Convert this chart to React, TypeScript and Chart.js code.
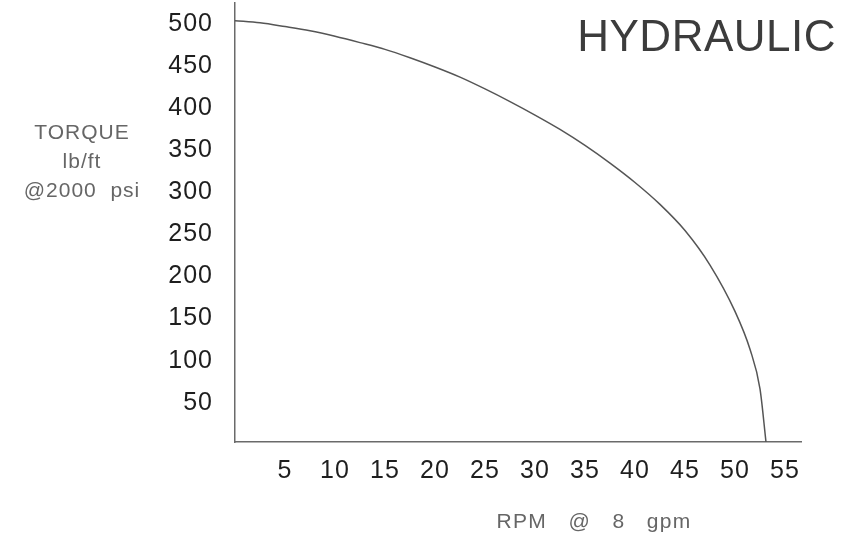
import React, { useEffect, useRef } from "react";
import { Chart, registerables } from "chart.js";

Chart.register(...registerables);

const rpm = [0, 2.5, 5, 7.5, 10, 12.5, 15, 17.5, 20, 22.5, 25, 27.5, 30, 32.5, 35, 37.5, 40, 42.5, 45, 47.5, 50, 51.5, 52.5, 53.1];
const torque = [500, 497.5, 493, 488, 481.5, 474, 466, 456, 445, 433, 419, 404, 388, 371, 352, 331, 308, 282, 251, 210, 155, 110, 63, 0];
const xTickValues = [5, 10, 15, 20, 25, 30, 35, 40, 45, 50, 55];
const yTickValues = [50, 100, 150, 200, 250, 300, 350, 400, 450, 500];
const chartTitle = "HYDRAULIC";
const yTitleLines = ["TORQUE", "lb/ft", "@2000  psi"];
const xTitle = "RPM   @   8   gpm";

const W = 841;
const H = 538;

const titlesPlugin = {
  id: "titlesPlugin",
  beforeDraw(chart: any) {
    (chart.ctx as any).letterSpacing = "1px";
  },
  afterDraw(chart: any) {
    const ctx = chart.ctx;
    ctx.save();
    (ctx as any).letterSpacing = "0.5px";
    ctx.fillStyle = "#3c3c3c";
    ctx.font = '44px "Liberation Sans", Arial, sans-serif';
    ctx.textAlign = "right";
    ctx.textBaseline = "alphabetic";
    ctx.fillText(chartTitle, 836, 51);

    (ctx as any).letterSpacing = "1px";
    ctx.fillStyle = "#666666";
    ctx.font = '21px "Liberation Sans", Arial, sans-serif';
    ctx.textAlign = "center";
    const baselines = [139, 168, 197];
    yTitleLines.forEach((t, i) => ctx.fillText(t, 82, baselines[i]));

    (ctx as any).letterSpacing = "1.3px";
    ctx.fillText(xTitle, 594, 528);
    ctx.restore();
    (ctx as any).letterSpacing = "0px";
  },
};

export default function App() {
  const ref = useRef<HTMLCanvasElement>(null);

  useEffect(() => {
    document.body.style.margin = "0";
    const canvas = ref.current;
    if (!canvas) return;
    const chart = new Chart(canvas, {
      type: "line",
      data: {
        datasets: [
          {
            data: rpm.map((x, i) => ({ x, y: torque[i] })),
            borderColor: "#555555",
            borderWidth: 1.5,
            pointRadius: 0,
            fill: false,
            cubicInterpolationMode: "monotone",
          },
        ],
      },
      options: {
        responsive: false,
        animation: false,
        layout: { padding: { left: 0, top: 3, right: 40, bottom: 0 } },
        plugins: {
          legend: { display: false },
          tooltip: { enabled: false },
          title: { display: false },
        },
        scales: {
          x: {
            type: "linear",
            min: 0,
            max: 56.6,
            grid: { display: false },
            border: { display: true, color: "#6a6a6a", width: 1.5 },
            afterBuildTicks: (scale: any) => {
              scale.ticks = xTickValues.map((v) => ({ value: v }));
            },
            afterFit: (scale: any) => {
              scale.height = 96;
              scale.paddingLeft = 0;
              scale.paddingRight = 0;
            },
            ticks: {
              color: "#1e1e1e",
              padding: 6,
              maxRotation: 0,
              autoSkip: false,
              font: { family: '"Liberation Sans", Arial, sans-serif', size: 25 },
            },
          },
          y: {
            type: "linear",
            min: 0,
            max: 521,
            grid: { display: false },
            border: { display: true, color: "#6a6a6a", width: 1.5 },
            afterBuildTicks: (scale: any) => {
              scale.ticks = yTickValues.map((v) => ({ value: v }));
            },
            afterFit: (scale: any) => {
              scale.width = 235;
              scale.paddingTop = 0;
              scale.paddingBottom = 0;
            },
            ticks: {
              color: "#1e1e1e",
              padding: 14,
              labelOffset: 3,
              autoSkip: false,
              font: { family: '"Liberation Sans", Arial, sans-serif', size: 25 },
            },
          },
        },
      },
      plugins: [titlesPlugin],
    });
    return () => chart.destroy();
  }, []);

  return (
    <div style={{ width: W, height: H, background: "#ffffff" }}>
      <canvas ref={ref} width={W} height={H} style={{ display: "block" }} />
    </div>
  );
}
